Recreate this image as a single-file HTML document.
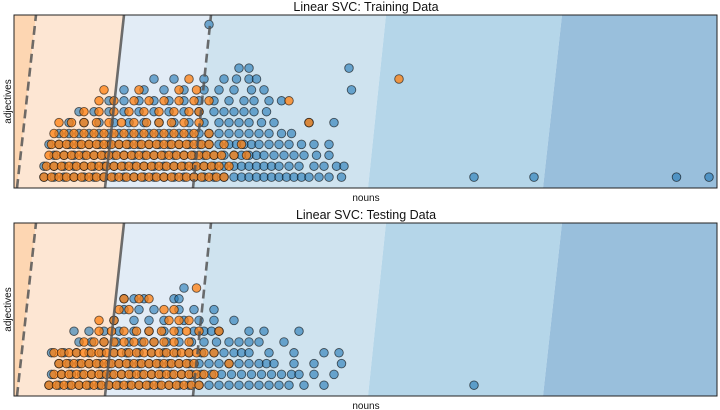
<!DOCTYPE html>
<html><head><meta charset="utf-8"><style>
html,body{margin:0;padding:0;background:#fff;}
svg{display:block;font-family:"Liberation Sans","DejaVu Sans",sans-serif;}
</style></head><body>
<svg id="chart" width="720" height="410" viewBox="0 0 720 410" xmlns="http://www.w3.org/2000/svg"></svg>
<script>
// ---- data (nouns on x, adjectives row index on y; row arrays start at adjectives=1) ----
const trainBlue = [
 [6,8,10,12,14,16,18,20,22,24,26,28,30,32,34,36,38,40,42,44,45.5,47,48.5,50,51.5,53,54.5,56,57.5,59,61,63,65.5,92,104,132.5,139],
 [6,8,10,12,14,16,18,20,22,24,26,28,30,32,34,36,38,40,42,44,45.5,47,48.5,50,51.5,53,55,57,60,62,64.5,66],
 [8,10,12,14,16,18,20,22,24,26,28,30,32,34,36,38,40,42,44,45.5,47,48.5,50,52,54,56,58,60.5,63],
 [7,9,11,13,15,17,19,21,23,25,27,29,31,33,35,37,39,41,43,44.5,46,47.5,49,51,53,55,57.5,60,63],
 [9,11,13,15,17,19,21,23,25,27,29,31,33,35,37,39,41,43,45,47,49,51,53.5,55.5],
 [11,14,17,20,23,26,29,32,35,38,41,43,45,47,49.5,52,59,64],
 [13,16,19,22,25,28,31,34,37,40,42,44,46,48,50.5],
 [19,22,25,28,31,34,37,40,43,46,48,51,53.5],
 [22,26,30,34,38,41,44,47.5,50,67.5],
 [28,32,38,42,44.5,47,48.5],
 [45,47,67],
 [],[],[],
 [39]
];
const trainOrange = [
 [6,7.5,9,10.5,12,13.5,15,16.5,18,19.5,21,22.5,24,25.5,27,28.5,30,31.5,33,34.5,36,37.5,39,40.5,42],
 [6.5,8,9.5,11,12.5,14,15.5,17,18.5,20,21.5,23,24.5,26,27.5,29,30.5,32,33.5,35,36.5,38,39.5,41,43],
 [7,8.5,10,11.5,13,14.5,16,17.5,19,20.5,22,23.5,25,26.5,28,29.5,31,32.5,34,35.5,37,38.5,40,41.5,44,46.5],
 [7.5,9,10.5,12,13.5,15,16.5,18,19.5,21,22.5,24,25.5,27,28.5,30,31.5,33,34.5,36,37.5,39,42,45.5],
 [8,10,12,14,16,18,20,22,24,26,28,30,32,34,36,39],
 [9,11.5,14,16.5,19,21.5,24,26.5,29,31.5,34,37,59],
 [14,17,20,23,26,29,32,35,37],
 [17,20,24,27,30,33,36,39,55],
 [18,25,33,36.5],
 [35,77]
];
const testBlue = [
 [7,9,11,13,15,17,19,21,23,25,27,29,31,33,35,37,39,41,43,45,47,49,51,53,55,58,62,92],
 [7.5,9.5,11.5,13.5,15.5,17.5,19.5,21.5,23.5,25.5,27.5,29.5,31.5,33.5,35.5,37.5,39.5,41.5,43.5,45.5,47.5,49.5,51.5,53.5,55.5,57,60,64],
 [9,11,13,15,17,19,21,23,25,27,29,31,33,35,37,39,41,43,45,47,49,50.5,52,56,60,65.5],
 [7.5,10,12.5,15,17.5,20,22.5,25,27.5,30,32.5,35,37.5,40,42,44,45.5,47,51,56,62,65],
 [13,15.5,18,20.5,23,25.5,28,30.5,33,35.5,38,40.5,43,45,47,49,54],
 [12,15,18,21,24,27,30,33,36,38,39.5,41,47,50,57],
 [20,24,27,30,34,37,40,44],
 [22,25,28,33,36,40],
 [22,24,26,32,33],
 [34]
];
const testOrange = [
 [7,8.5,10,11.5,13,14.5,16,17.5,19,20.5,22,23.5,25,26.5,28,29.5,31,32.5,34,35.5,37],
 [8,9.5,11,12.5,14,15.5,17,18.5,20,21.5,23,24.5,26,27.5,29,30.5,32,33.5,35,36.5,38,40],
 [9,10.5,12,13.5,15,16.5,18,19.5,21,22.5,24,25.5,27,28.5,30,31.5,33,34.5,36,43],
 [8,9.5,11,12.5,14,15.5,17,18.5,20,21.5,23,24.5,26,27.5,29,30.5,32,33.5,35,36.5,38,40],
 [14,16,18,20,22,24,26,28,30,32,35],
 [17,19.5,22,24.5,27,29.5,32,34.5,37,41],
 [17,20,31,33,35],
 [21,23,30,32],
 [22,25,27],
 [36.5]
];
// decision boundaries in nouns units at bottom and top of each panel
const boundBottom = [0.6, 18.2, 35.8, 70.8, 105.8];
const boundTop    = [4.4, 22,   39.4, 74.4, 109.6];
const bandColors = ['#fdd6b2','#fde6d3','#e2ecf6','#cfe3ef','#b5d6e9','#99bfdc'];

const NS='http://www.w3.org/2000/svg';
const svg=document.getElementById('chart');
function mk(tag,attrs,parent){const e=document.createElementNS(NS,tag);for(const k in attrs)e.setAttribute(k,attrs[k]);(parent||svg).appendChild(e);return e;}
const X0=14,X1=717,XMAX=140.6;
function xs(n){return X0+n*(X1-X0)/XMAX;}

function panel(top,bottom,rowH,blue,orange,title,key){
  const g=mk('g',{});
  
  
  const ys=a=>bottom-a*rowH;
  const clip=mk('clipPath',{id:'clip-'+key},g);
  mk('rect',{x:X0,y:top,width:X1-X0,height:bottom-top},clip);
  const bg=mk('g',{'clip-path':'url(#clip-'+key+')'},g);
  
  
  const lb=[-10].concat(boundBottom,[200]), lt=[-10].concat(boundTop,[200]);
  for(let i=0;i<bandColors.length;i++){
    const p=mk('polygon',{points:`${xs(lb[i])},${bottom} ${xs(lt[i])},${top} ${xs(lt[i+1])},${top} ${xs(lb[i+1])},${bottom}`,fill:bandColors[i]},bg);
    
    
  }
  const dots=mk('g',{'clip-path':'url(#clip-'+key+')'},g);
  
  
  function draw(rows,col,op,name){
    rows.forEach((row,ri)=>row.forEach(n=>{
      const c=mk('circle',{cx:xs(n),cy:ys(ri+1),r:4.3,fill:col,'fill-opacity':op,stroke:'#000','stroke-opacity':0.6,'stroke-width':0.9},dots);
      
      
    }));
  }
  draw(blue,'#1f77b4',0.6,'point-blue');
  draw(orange,'#ff7f0e',0.75,'point-orange');
  const lines=mk('g',{'clip-path':'url(#clip-'+key+')'},g);
  [0,1,2].forEach(i=>{
    const l=mk('line',{x1:xs(boundBottom[i]),y1:bottom,x2:xs(boundTop[i]),y2:top,stroke:'#555','stroke-opacity':0.85,'stroke-width':2.6,'stroke-dasharray':i===1?'none':'9,5'},lines);
    
    
  });
  const fr=mk('rect',{x:X0,y:top,width:X1-X0,height:bottom-top,fill:'none',stroke:'#222','stroke-width':1},g);
  
  
  const t=mk('text',{x:366,y:top-4,'text-anchor':'middle','font-size':12.5,fill:'#111'},g);
  t.textContent=title;
  
  
  const xl=mk('text',{x:366,y:bottom+13,'text-anchor':'middle','font-size':10,fill:'#111'},g);
  xl.textContent='nouns';
  
  
  const cy=(top+bottom)/2;
  const yl=mk('text',{x:8,y:cy,'text-anchor':'middle','font-size':10,fill:'#111',transform:`rotate(-90 8 ${cy}) translate(0 3)`},g);
  yl.textContent='adjectives';
  
  
}
panel(15,188,10.9,trainBlue,trainOrange,'Linear SVC: Training Data','training');
panel(223,396,10.8,testBlue,testOrange,'Linear SVC: Testing Data','testing');
</script>
</body></html>
